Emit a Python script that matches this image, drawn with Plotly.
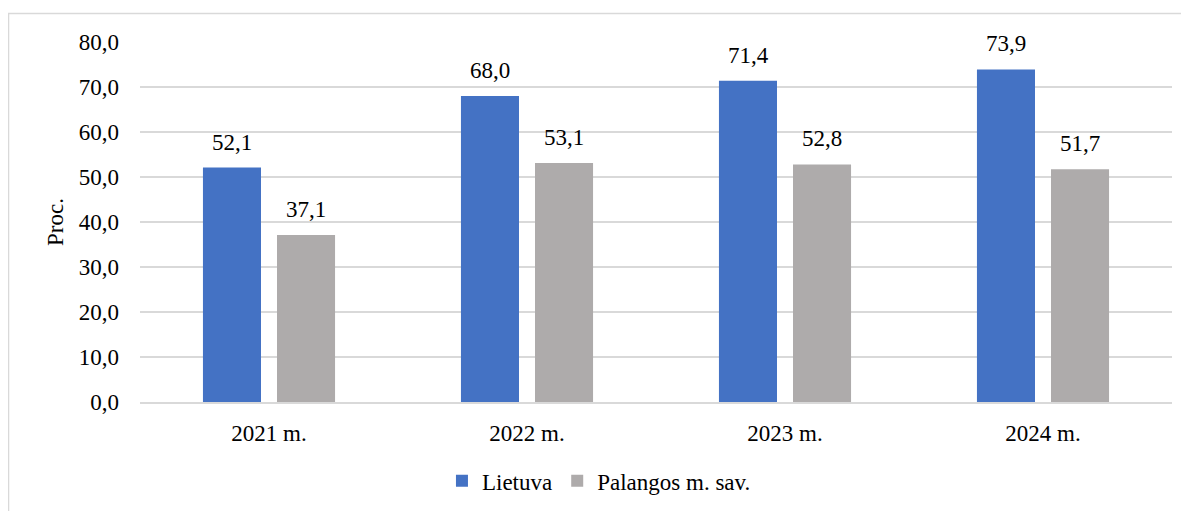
import plotly.graph_objects as go

categories = ["2021 m.", "2022 m.", "2023 m.", "2024 m."]
lietuva = [52.1, 68.0, 71.4, 73.9]
palanga = [37.1, 53.1, 52.8, 51.7]
series_names = ["Lietuva", "Palangos m. sav."]
y_ticks = [0, 10, 20, 30, 40, 50, 60, 70, 80]

FONT = "Liberation Serif, Times New Roman, serif"
FS = 23
fig = go.Figure()
fig.add_trace(go.Bar(x=categories, y=lietuva, name=series_names[0], marker_color="#4472C4",
                     marker_line_width=0))
fig.add_trace(go.Bar(x=categories, y=palanga, name=series_names[1], marker_color="#AEABAB",
                     marker_line_width=0))

annotations = []
for vals, shift in ((lietuva, -37), (palanga, 37)):
    for c, v in zip(categories, vals):
        annotations.append(dict(x=c, y=v, xref="x", yref="y", text=f"{v:.1f}".replace(".", ","),
                                showarrow=False, xshift=shift, yshift=11, yanchor="bottom",
                                font=dict(family=FONT, size=FS, color="#000")))

fig.update_layout(
    width=1189, height=511,
    margin=dict(l=132, r=25, t=34, b=117),
    paper_bgcolor="white", plot_bgcolor="white",
    separators=", ",
    barmode="group", bargap=0.426, bargroupgap=0.216,
    font=dict(family=FONT, size=FS, color="#000"),
    showlegend=True,
    legend=dict(orientation="h", x=0.2926, xanchor="left", y=-0.219, yanchor="middle",
                font=dict(family=FONT, size=FS), itemwidth=30, tracegroupgap=0),
    annotations=annotations,
    shapes=[dict(type="rect", xref="paper", yref="paper", x0=-0.1274, x1=1.2, y0=-0.5, y1=1.079,
                 line=dict(color="#D9D9D9", width=1.5), fillcolor="rgba(0,0,0,0)", layer="below")],
)
fig.update_yaxes(range=[0, 80], tickvals=y_ticks, tickformat=".1f", showgrid=True,
                 gridcolor="#D9D9D9", gridwidth=1.5, zeroline=False, showline=False,
                 ticks="", ticklabelstandoff=20,
                 title=dict(text="Proc.", standoff=8, font=dict(family=FONT, size=FS)))
fig.update_xaxes(showline=True, linecolor="#D9D9D9", linewidth=1.5, ticks="",
                 ticklabelstandoff=10)

fig.write_html("out.html")
